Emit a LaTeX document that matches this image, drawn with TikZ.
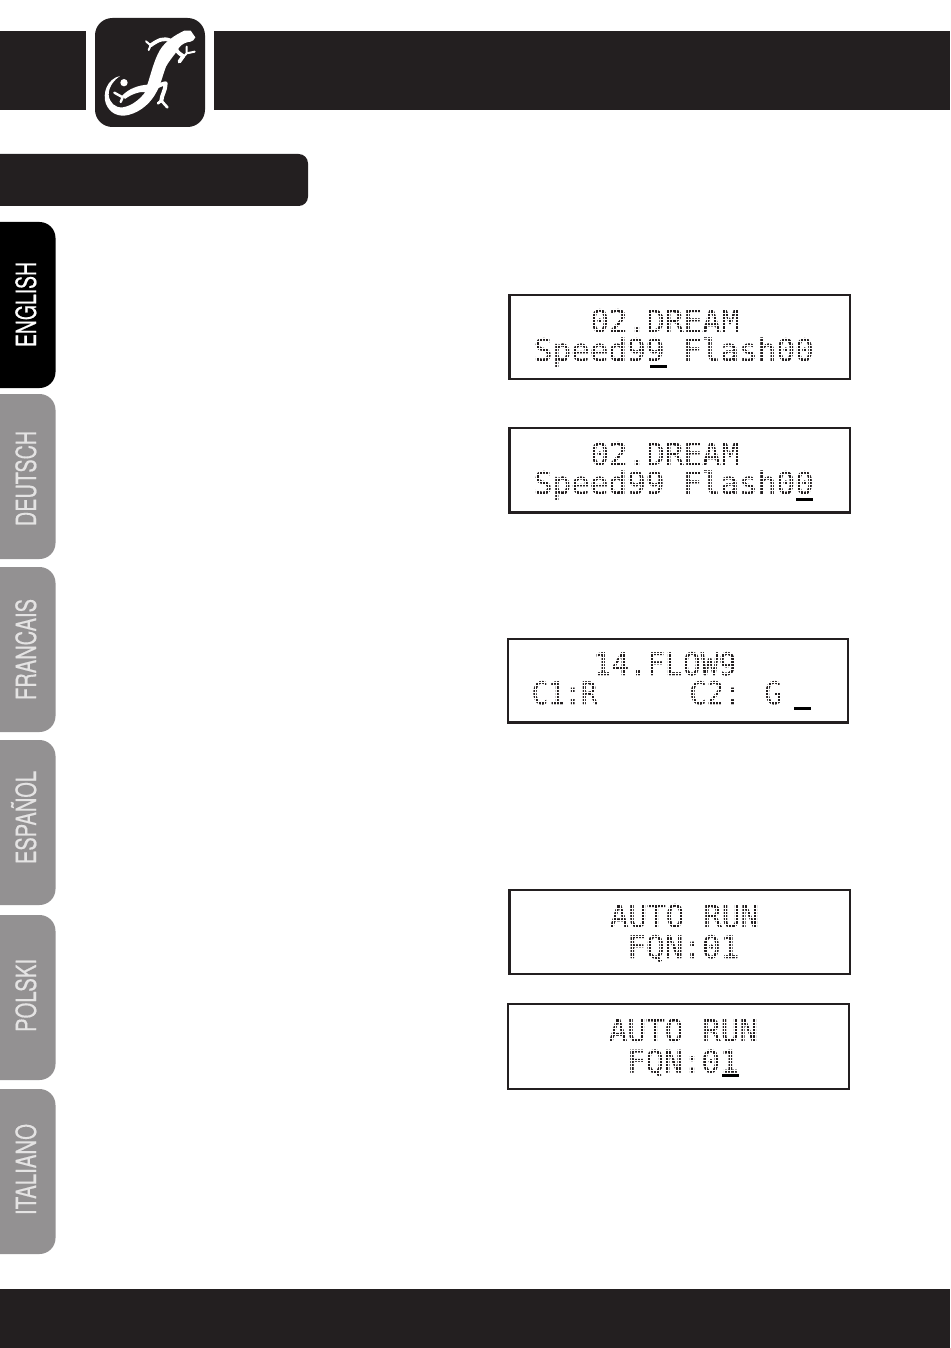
\documentclass[tikz,border=0pt]{standalone}
\usepackage{fontspec}
\setmainfont{TeX Gyre Heros}
\newfontfamily\tabface[FakeBold=0.5]{TeX Gyre Heros}
\newfontfamily\lcdface[FakeBold=1.2]{DejaVu Sans Mono}
\definecolor{barblack}{HTML}{231F20}
\definecolor{tabgrey}{HTML}{939192}
\definecolor{tabtext}{HTML}{E4E3E3}
\newdimen\pxu \pxu=0.75pt
\newcommand{\tabtxt}[2]{\resizebox{#1\pxu}{20\pxu}{\tabface\rule{0pt}{0.72em}\smash{#2}}}
\newcommand{\lcdtxt}[2][1]{\scalebox{#1}[1]{\lcdface\fontsize{23.25}{28}\selectfont #2}}
\tikzset{
  barfill/.style={fill=barblack},
  tabgreyfill/.style={fill=tabgrey},
  tablabel/.style={rotate=90,inner sep=0pt,anchor=center,text=tabtext},
  lcdbox/.style={draw=barblack,line width=1.6pt,fill=none},
  lcdtext/.style={inner sep=0pt,anchor=base west,text=barblack},
  cursor/.style={fill=black},
  lizline/.style={draw=white,line cap=round,line join=round}
}
% dot-matrix mask over an LCD panel: x0,y0,x1,y1
\newcommand{\lcdmask}[4]{%
  \begin{scope}
    \clip (#1,#2) rectangle (#3,#4);
    \foreach \gx in {0,...,110} {\draw[white,line width=0.5pt] ({#1+3.11*\gx},#2) -- ({#1+3.11*\gx},#4);}
    \foreach \gy in {0,...,26} {\draw[white,line width=0.5pt] (#1,{#2+3.2*\gy}) -- (#3,{#2+3.2*\gy});}
  \end{scope}}
\begin{document}
\begin{tikzpicture}[x=.75pt,y=-.75pt]
\useasboundingbox (0,0) rectangle (950,1348);
% header and footer bars
\fill[barfill] (0,31) rectangle (86,110);
\fill[barfill] (214,31) rectangle (950,110);
\fill[barfill,rounded corners=13pt] (95,18) rectangle (205,127);
\fill[barfill] (0,154) [rounded corners=7pt] -- (308,154) -- (308,206) [sharp corners] -- (0,206) -- cycle;
\fill[barfill] (0,1289) rectangle (950,1348);
% lizard logo (coordinates at 3x)
\begin{scope}[x=.25pt,y=-.25pt]
  \fill[white] (586,112) .. controls (582,120) and (578,124) .. (572,125)
    .. controls (560,126) and (548,130) .. (538,142)
    .. controls (528,160) and (510,178) .. (498,200)
    .. controls (488,225) and (484,250) .. (470,275)
    .. controls (455,305) and (425,335) .. (385,345)
    .. controls (355,352) and (330,340) .. (318,312)
    .. controls (306,280) and (322,236) .. (360,228)
    .. controls (345,238) and (326,258) .. (326,284)
    .. controls (328,308) and (345,324) .. (368,322)
    .. controls (395,318) and (420,298) .. (436,276)
    .. controls (420,274) and (395,282) .. (375,297)
    -- (366,288)
    .. controls (385,266) and (415,256) .. (442,254)
    .. controls (452,225) and (462,180) .. (480,150)
    .. controls (495,125) and (525,105) .. (553,92)
    -- (572,92) -- cycle;
  \fill[white] (372,248) circle (11);
  \draw[lizline,line width=2.8pt] (512,122) .. controls (490,112) and (475,120) .. (452,136);
  \draw[lizline,line width=1.5pt] (452,136) -- (438,124) (452,136) -- (446,150);
  \draw[lizline,line width=2.8pt] (528,148) .. controls (535,160) and (545,165) .. (550,168) -- (538,185);
  \draw[lizline,line width=1.5pt] (538,185) -- (560,160) -- (584,155) (560,160) -- (560,140);
  \draw[lizline,line width=3pt] (460,264) .. controls (475,258) and (490,250) .. (497,250) .. controls (497,270) and (485,285) .. (484,302);
  \draw[lizline,line width=2pt] (484,302) -- (502,322) (484,302) -- (474,310);
  \draw[lizline,line width=1.8pt] (368,292) -- (343,278) (368,292) -- (362,306);
\end{scope}
% language tabs
\fill[black] (0,222) [rounded corners=12pt] -- (55.5,222) -- (55.5,388) [sharp corners] -- (0,388) -- cycle;
\fill[tabgreyfill] (0,394) [rounded corners=12pt] -- (55.5,394) -- (55.5,559) [sharp corners] -- (0,559) -- cycle;
\fill[tabgreyfill] (0,567) [rounded corners=12pt] -- (55.5,567) -- (55.5,732) [sharp corners] -- (0,732) -- cycle;
\fill[tabgreyfill] (0,740) [rounded corners=12pt] -- (55.5,740) -- (55.5,905) [sharp corners] -- (0,905) -- cycle;
\fill[tabgreyfill] (0,915) [rounded corners=12pt] -- (55.5,915) -- (55.5,1080) [sharp corners] -- (0,1080) -- cycle;
\fill[tabgreyfill] (0,1089) [rounded corners=12pt] -- (55.5,1089) -- (55.5,1254) [sharp corners] -- (0,1254) -- cycle;
\node[tablabel,text=white] (tEN) at (26,304.5) {\tabtxt{85}{ENGLISH}};
\node[tablabel] (tDE) at (26,478.5) {\tabtxt{95}{DEUTSCH}};
\node[tablabel] (tFR) at (26,649.5) {\tabtxt{101}{FRANCAIS}};
\node[tablabel] (tES) at (26,817.5) {\tabtxt{93}{ESPAÑOL}};
\node[tablabel] (tPL) at (26,995.5) {\tabtxt{73}{POLSKI}};
\node[tablabel] (tIT) at (26,1169.5) {\tabtxt{91}{ITALIANO}};
% LCD 1
\node[lcdtext] (a1) at (590,332) {\lcdtxt{02.DREAM}};
\node[lcdtext] (a2) at (533.5,361) {\lcdtxt{Speed99 Flash00}};
\lcdmask{511}{297}{849}{378}
\draw[lcdbox] (509.5,295) rectangle (850,379);
\fill[cursor] (650,365) rectangle (667,368);
% LCD 2
\node[lcdtext] (b1) at (590,465) {\lcdtxt{02.DREAM}};
\node[lcdtext] (b2) at (533.5,494) {\lcdtxt{Speed99 Flash00}};
\lcdmask{511}{430}{849}{511}
\draw[lcdbox] (509.5,428) rectangle (850,512.5);
\fill[cursor] (796,498) rectangle (813,501);
% LCD 3
\node[lcdtext] (c1) at (593,675) {\lcdtxt[.96]{14.FLOW9}};
\node[lcdtext] (c2) at (531.5,704) {\lcdtxt[.88]{C1:R}};
\node[lcdtext] (c3) at (689,704) {\lcdtxt[.93]{C2: G}};
\lcdmask{510}{641}{847}{721}
\draw[lcdbox] (508,639) rectangle (848,722.5);
\fill[cursor] (794,707) rectangle (811,710);
% LCD 4
\node[lcdtext] (d1) at (609.5,927) {\lcdtxt{AUTO RUN}};
\node[lcdtext] (d2) at (627,958) {\lcdtxt{FQN:01}};
\lcdmask{511}{892}{849}{973}
\draw[lcdbox] (509.5,890) rectangle (850,974);
% LCD 5
\node[lcdtext] (e1) at (608.5,1041.5) {\lcdtxt{AUTO RUN}};
\node[lcdtext] (e2) at (626.5,1072.5) {\lcdtxt{FQN:01}};
\lcdmask{510}{1006}{848}{1088}
\draw[lcdbox] (508,1004) rectangle (849,1089);
\fill[cursor] (722,1074) rectangle (739,1077);
\end{tikzpicture}
\end{document}
